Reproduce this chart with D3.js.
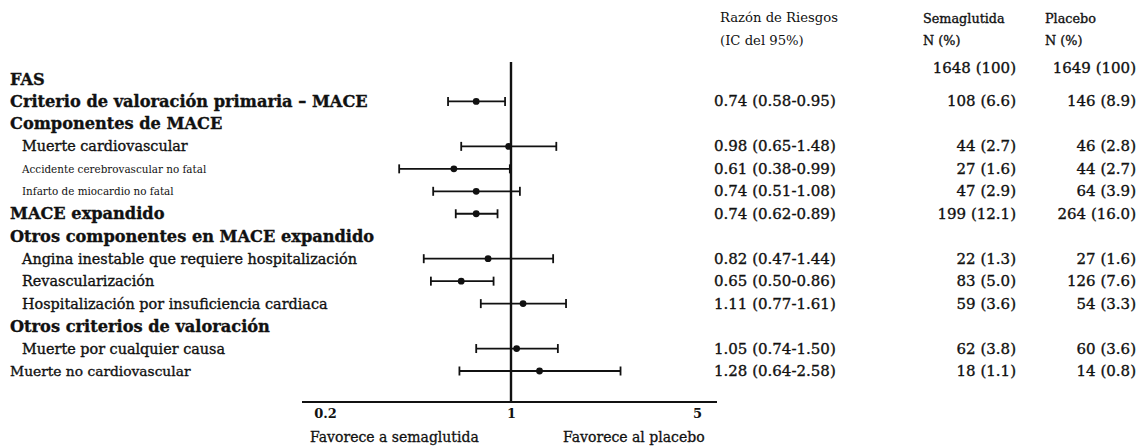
<!DOCTYPE html>
<html>
<head>
<meta charset="utf-8">
<script src="https://cdn.jsdelivr.net/npm/d3@7"></script>
<style>
  html, body { margin: 0; padding: 0; background: #fff; }
  svg { display: block; }
  text { font-family: "DejaVu Serif", "Liberation Serif", serif; fill: #111; }
</style>
</head>
<body>
<script>
// ---- data ----
const labels = [
  "FAS",
  "Criterio de valoración primaria – MACE",
  "Componentes de MACE",
  "Muerte cardiovascular",
  "Accidente cerebrovascular no fatal",
  "Infarto de miocardio no fatal",
  "MACE expandido",
  "Otros componentes en MACE expandido",
  "Angina inestable que requiere hospitalización",
  "Revascularización",
  "Hospitalización por insuficiencia cardiaca",
  "Otros criterios de valoración",
  "Muerte por cualquier causa",
  "Muerte no cardiovascular"
];
// level: 0 = section header (bold), 1 = sub item, 2 = small sub item, 3 = unindented plain
const levels = [0, 0, 0, 1, 2, 2, 0, 0, 1, 1, 1, 0, 1, 3];
const hr   = [null, 0.74, null, 0.98, 0.61, 0.74, 0.74, null, 0.82, 0.65, 1.11, null, 1.05, 1.28];
const ciLo = [null, 0.58, null, 0.65, 0.38, 0.51, 0.62, null, 0.47, 0.50, 0.77, null, 0.74, 0.64];
const ciHi = [null, 0.95, null, 1.48, 0.99, 1.08, 0.89, null, 1.44, 0.86, 1.61, null, 1.50, 2.58];
const hrText = [null, "0.74 (0.58-0.95)", null, "0.98 (0.65-1.48)", "0.61 (0.38-0.99)",
  "0.74 (0.51-1.08)", "0.74 (0.62-0.89)", null, "0.82 (0.47-1.44)", "0.65 (0.50-0.86)",
  "1.11 (0.77-1.61)", null, "1.05 (0.74-1.50)", "1.28 (0.64-2.58)"];
const semaText = ["1648 (100)", "108 (6.6)", null, "44 (2.7)", "27 (1.6)", "47 (2.9)", "199 (12.1)",
  null, "22 (1.3)", "83 (5.0)", "59 (3.6)", null, "62 (3.8)", "18 (1.1)"];
const placText = ["1649 (100)", "146 (8.9)", null, "46 (2.8)", "44 (2.7)", "64 (3.9)", "264 (16.0)",
  null, "27 (1.6)", "126 (7.6)", "54 (3.3)", null, "60 (3.6)", "14 (0.8)"];
const ticks = [0.2, 1, 5];
const tickLabels = ["0.2", "1", "5"];
const headHR = ["Razón de Riesgos", "(IC del 95%)"];
const headSema = ["Semaglutida", "N (%)"];
const headPlac = ["Placebo", "N (%)"];
const favorLeft = "Favorece a semaglutida";
const favorRight = "Favorece al placebo";

// ---- layout ----
const W = 1143, H = 446;
const svg = d3.select("body").append("svg").attr("width", W).attr("height", H);

const x = d3.scaleLog().domain([0.2, 5]).range([325, 697]);
const y = d3.scalePoint().domain(d3.range(labels.length)).range([79, 371]);
const axisY = 402;

const rows = labels.map((l, i) => ({
  label: l, level: levels[i], hr: hr[i], lo: ciLo[i], hi: ciHi[i],
  hrText: hrText[i], sema: semaText[i], plac: placText[i], i
}));

// labels
const lx = {0: 10, 1: 22, 2: 22, 3: 10};
const lsize = {0: 16.2, 1: 14.4, 2: 10.4, 3: 13.8};
svg.append("g").selectAll("text").data(rows).join("text")
  .attr("x", d => lx[d.level])
  .attr("y", d => y(d.i))
  .attr("dominant-baseline", "central")
  .attr("font-size", d => lsize[d.level])
  .attr("font-weight", d => d.level === 0 ? "bold" : "normal")
  .attr("stroke", d => d.level === 2 ? "none" : "#111")
  .attr("stroke-width", 0.35)
  .text(d => d.label);

// reference line at 1
svg.append("line")
  .attr("x1", x(1)).attr("x2", x(1))
  .attr("y1", 62).attr("y2", axisY)
  .attr("stroke", "#111").attr("stroke-width", 2.4);

// x axis (bottom)
const axis = d3.axisBottom(x).tickValues(ticks).tickFormat((d, i) => tickLabels[i]).tickSize(0).tickPadding(7);
const gAxis = svg.append("g").attr("transform", `translate(0,${axisY})`).call(axis);
gAxis.select(".domain").remove();
gAxis.append("line").attr("x1", x.range()[0] - 23).attr("x2", x.range()[1] + 20)
  .attr("stroke", "#111").attr("stroke-width", 2);
gAxis.selectAll(".tick text")
  .attr("font-family", "DejaVu Serif, serif")
  .attr("font-size", 13).attr("font-weight", "bold").attr("fill", "#111");

svg.append("text").attr("x", x(0.2) - 15).attr("y", 437)
  .attr("dominant-baseline", "central").attr("font-size", 14)
  .attr("stroke", "#111").attr("stroke-width", 0.3).text(favorLeft);
svg.append("text").attr("x", x(1) + 52).attr("y", 437)
  .attr("dominant-baseline", "central").attr("font-size", 14)
  .attr("stroke", "#111").attr("stroke-width", 0.3).text(favorRight);

// CI marks
const ci = rows.filter(d => d.hr != null);
const g = svg.append("g");
g.selectAll("line.ci").data(ci).join("line").attr("class", "ci")
  .attr("x1", d => x(d.lo)).attr("x2", d => x(d.hi))
  .attr("y1", d => y(d.i)).attr("y2", d => y(d.i))
  .attr("stroke", "#111").attr("stroke-width", 1.8);
g.selectAll("line.capl").data(ci).join("line").attr("class", "capl")
  .attr("x1", d => x(d.lo)).attr("x2", d => x(d.lo))
  .attr("y1", d => y(d.i) - 4.5).attr("y2", d => y(d.i) + 4.5)
  .attr("stroke", "#111").attr("stroke-width", 1.8);
g.selectAll("line.caph").data(ci).join("line").attr("class", "caph")
  .attr("x1", d => x(d.hi)).attr("x2", d => x(d.hi))
  .attr("y1", d => y(d.i) - 4.5).attr("y2", d => y(d.i) + 4.5)
  .attr("stroke", "#111").attr("stroke-width", 1.8);
g.selectAll("circle").data(ci).join("circle")
  .attr("cx", d => x(d.hr)).attr("cy", d => y(d.i)).attr("r", 3.4)
  .attr("fill", "#111");

// headers
const hg = svg.append("g");
headHR.forEach((t, k) => hg.append("text").attr("x", 720).attr("y", 17 + k * 23)
  .attr("dominant-baseline", "central").attr("font-size", 13.2).text(t));
headSema.forEach((t, k) => hg.append("text").attr("x", 923).attr("y", 18 + k * 22)
  .attr("dominant-baseline", "central").attr("font-size", 12.8).attr("stroke", "#111").attr("stroke-width", 0.35).text(t));
headPlac.forEach((t, k) => hg.append("text").attr("x", 1045).attr("y", 18 + k * 22)
  .attr("dominant-baseline", "central").attr("font-size", 12.8).attr("stroke", "#111").attr("stroke-width", 0.35).text(t));

// value columns
const vg = svg.append("g");
const numStyle = sel => sel.attr("dominant-baseline", "central").attr("font-size", 15)
  .attr("stroke", "#111").attr("stroke-width", 0.35);
vg.selectAll("text.hr").data(rows.filter(d => d.hrText)).join("text").attr("class", "hr")
  .attr("x", 714).attr("y", d => y(d.i)).call(numStyle).text(d => d.hrText);
vg.selectAll("text.se").data(rows.filter(d => d.sema)).join("text").attr("class", "se")
  .attr("x", 1016).attr("y", d => y(d.i) - (d.i === 0 ? 11 : 0)).attr("text-anchor", "end")
  .call(numStyle).text(d => d.sema);
vg.selectAll("text.pl").data(rows.filter(d => d.plac)).join("text").attr("class", "pl")
  .attr("x", 1136).attr("y", d => y(d.i) - (d.i === 0 ? 11 : 0)).attr("text-anchor", "end")
  .call(numStyle).text(d => d.plac);
</script>
</body>
</html>
